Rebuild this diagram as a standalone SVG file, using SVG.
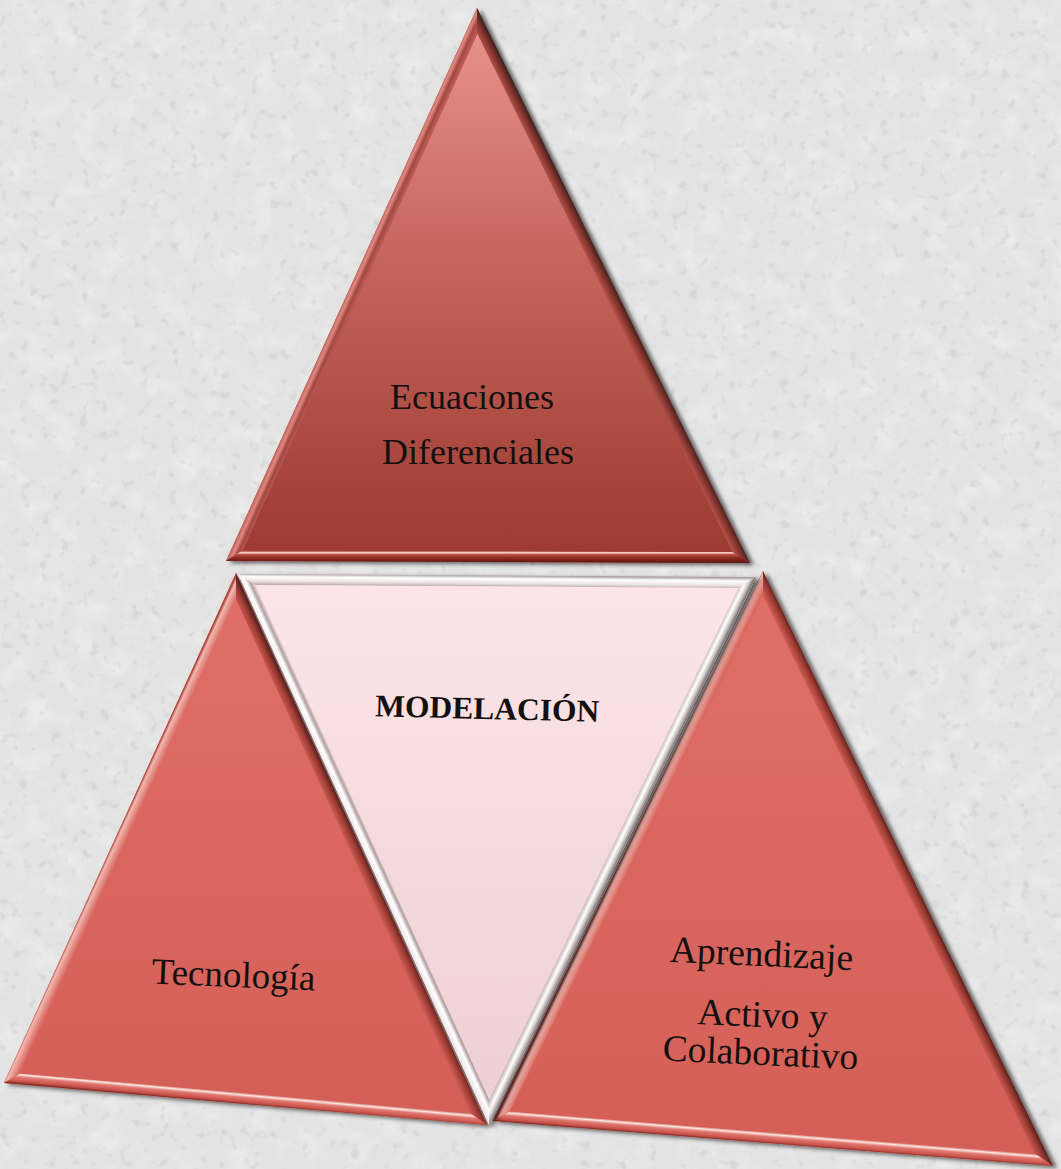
<svg xmlns="http://www.w3.org/2000/svg" width="1061" height="1169" viewBox="0 0 1061 1169">
  <defs>
    <style>
      .lbl { font-family: "Liberation Serif", "Times New Roman", serif; fill: #151010; text-anchor: middle; }
      .big { font-size: 36px; }
      .bold { font-size: 31.5px; font-weight: bold; }
    </style>

    <!-- paper grain for the backdrop: sparse dark specks plus faint light mottling -->
    <filter id="grainDark" x="0" y="0" width="1" height="1">
      <feTurbulence type="fractalNoise" baseFrequency="0.1" numOctaves="2" seed="7"/>
      <feColorMatrix type="matrix" values="0 0 0 0 0.5  0 0 0 0 0.5  0 0 0 0 0.5  5 0 0 0 -3.0"/>
    </filter>
    <filter id="grainLight" x="0" y="0" width="1" height="1">
      <feTurbulence type="fractalNoise" baseFrequency="0.04" numOctaves="3" seed="21"/>
      <feColorMatrix type="matrix" values="0 0 0 0 1  0 0 0 0 1  0 0 0 0 1  -2.2 0 0 0 1.2"/>
    </filter>

    <!-- soft cast shadow under each prism -->
    <filter id="cast" x="-10%" y="-10%" width="125%" height="125%">
      <feDropShadow dx="4" dy="2" stdDeviation="2" flood-color="#000" flood-opacity="0.6"/>
    </filter>

    <!-- face fills -->
    <linearGradient id="faceTop" gradientUnits="userSpaceOnUse" x1="0" y1="30" x2="0" y2="552">
      <stop offset="0" stop-color="#e8928a"/>
      <stop offset="0.45" stop-color="#c4645b"/>
      <stop offset="1" stop-color="#9d3a32"/>
    </linearGradient>
    <linearGradient id="faceMid" gradientUnits="userSpaceOnUse" x1="0" y1="585" x2="0" y2="1100">
      <stop offset="0" stop-color="#fde5e7"/>
      <stop offset="1" stop-color="#edd0d4"/>
    </linearGradient>
    <linearGradient id="faceSide" x1="0" y1="0" x2="0" y2="1">
      <stop offset="0" stop-color="#df6f67"/>
      <stop offset="1" stop-color="#d45f57"/>
    </linearGradient>

    <!-- bevel profiles, outer edge -> inner edge -->
    <linearGradient id="bvTopL"><stop offset="0" stop-color="#c86860"/><stop offset="0.25" stop-color="#de8a80"/><stop offset="0.6" stop-color="#a44640"/><stop offset="1" stop-color="#bc5e56"/></linearGradient>
    <linearGradient id="bvTopR"><stop offset="0" stop-color="#3a2624"/><stop offset="0.35" stop-color="#7a2e27"/><stop offset="1" stop-color="#b0524a"/></linearGradient>
    <linearGradient id="bvTopB"><stop offset="0" stop-color="#661812"/><stop offset="0.4" stop-color="#8e2c24"/><stop offset="0.7" stop-color="#c0564c"/><stop offset="0.84" stop-color="#ffe6de"/><stop offset="1" stop-color="#a8423a"/></linearGradient>

    <linearGradient id="bvRedL"><stop offset="0" stop-color="#b0463e"/><stop offset="0.22" stop-color="#f2b8b0"/><stop offset="0.55" stop-color="#e6948c"/><stop offset="1" stop-color="#d8665e"/></linearGradient>
    <linearGradient id="bvRedR"><stop offset="0" stop-color="#5a2420"/><stop offset="0.4" stop-color="#9c3a32"/><stop offset="1" stop-color="#cc5c54"/></linearGradient>
    <linearGradient id="bvRedB"><stop offset="0" stop-color="#8a2e28"/><stop offset="0.18" stop-color="#c8524a"/><stop offset="0.58" stop-color="#e07a72"/><stop offset="0.8" stop-color="#fde8e2"/><stop offset="1" stop-color="#d0645c"/></linearGradient>

    <linearGradient id="bvPinkT"><stop offset="0" stop-color="#a8a0a0"/><stop offset="0.3" stop-color="#ffffff"/><stop offset="0.7" stop-color="#ece4e4"/><stop offset="1" stop-color="#c0b0b2"/></linearGradient>
    <linearGradient id="bvPinkL"><stop offset="0" stop-color="#f2e6e8"/><stop offset="0.45" stop-color="#ffffff"/><stop offset="0.8" stop-color="#b0a0a2"/><stop offset="1" stop-color="#dcc8cc"/></linearGradient>
    <linearGradient id="bvPinkR"><stop offset="0" stop-color="#7c7272"/><stop offset="0.3" stop-color="#cec6c6"/><stop offset="0.6" stop-color="#ffffff"/><stop offset="1" stop-color="#c8b8ba"/></linearGradient>

    <!-- per-edge orientations of the bevel profiles (along each inward normal) -->
    <linearGradient id="gTopL" href="#bvTopL" gradientUnits="userSpaceOnUse" x1="351.5" y1="284.5" x2="361.5" y2="289"/>
    <linearGradient id="gTopR" href="#bvTopR" gradientUnits="userSpaceOnUse" x1="613.5" y1="285.5" x2="603.6" y2="290.4"/>
    <linearGradient id="gTopB" href="#bvTopB" gradientUnits="userSpaceOnUse" x1="488" y1="562" x2="488" y2="551"/>

    <linearGradient id="gMidT" href="#bvPinkT" gradientUnits="userSpaceOnUse" x1="497" y1="575.5" x2="496.9" y2="586.5"/>
    <linearGradient id="gMidL" href="#bvPinkL" gradientUnits="userSpaceOnUse" x1="363.5" y1="849.5" x2="373.5" y2="844.9"/>
    <linearGradient id="gMidR" href="#bvPinkR" gradientUnits="userSpaceOnUse" x1="622.5" y1="851" x2="612.6" y2="846.2"/>

    <linearGradient id="gLftL" href="#bvRedL" gradientUnits="userSpaceOnUse" x1="120" y1="828" x2="130" y2="832.6"/>
    <linearGradient id="gLftR" href="#bvRedR" gradientUnits="userSpaceOnUse" x1="361.5" y1="849" x2="351.5" y2="853.6"/>
    <linearGradient id="gLftB" href="#bvRedB" gradientUnits="userSpaceOnUse" x1="245.5" y1="1104" x2="246.5" y2="1093"/>

    <linearGradient id="gRgtL" href="#bvRedL" gradientUnits="userSpaceOnUse" x1="628" y1="846" x2="637.9" y2="850.8"/>
    <linearGradient id="gRgtR" href="#bvRedR" gradientUnits="userSpaceOnUse" x1="908" y1="868.5" x2="898.1" y2="873.3"/>
    <linearGradient id="gRgtB" href="#bvRedB" gradientUnits="userSpaceOnUse" x1="773" y1="1143.5" x2="773.9" y2="1132.5"/>
  </defs>

  <!-- backdrop -->
  <rect width="1061" height="1169" fill="#e3e3e3"/>
  <rect width="1061" height="1169" filter="url(#grainLight)" opacity="0.35"/>
  <rect width="1061" height="1169" filter="url(#grainDark)" opacity="0.3"/>

  <!-- top prism -->
  <g id="node-ecuaciones">
    <polygon points="477,8 226,561 750,563" fill="#9d3a32" filter="url(#cast)"/>
    <polygon points="477,8 226,561 243,550.1 477.4,33.7" fill="url(#gTopL)"/>
    <polygon points="477,8 750,563 732.3,551.9 477.4,33.7" fill="url(#gTopR)"/>
    <polygon points="226,561 750,563 732.3,551.9 243,550.1" fill="url(#gTopB)"/>
    <polygon points="477.4,33.7 243,550.1 732.3,551.9" fill="url(#faceTop)"/>
    <text class="lbl big" x="472" y="409">Ecuaciones</text>
    <text class="lbl big" x="478" y="464">Diferenciales</text>
  </g>

  <!-- lower left prism -->
  <g id="node-tecnologia">
    <polygon points="236,573 4,1083 487,1125" fill="#d35f57" filter="url(#cast)"/>
    <polygon points="236,573 4,1083 20.4,1073.4 236,599.6" fill="url(#gLftL)"/>
    <polygon points="236,573 487,1125 469.2,1112.4 236,599.6" fill="url(#gLftR)"/>
    <polygon points="4,1083 487,1125 469.2,1112.4 20.4,1073.4" fill="url(#gLftB)"/>
    <polygon points="236,599.6 20.4,1073.4 469.2,1112.4" fill="url(#faceSide)"/>
    <text class="lbl" font-size="37" transform="translate(233,987) rotate(2.4)">Tecnología</text>
  </g>

  <!-- lower right prism -->
  <g id="node-aprendizaje">
    <polygon points="763,571 493,1121 1053,1166" fill="#d35f57" filter="url(#cast)"/>
    <polygon points="763,571 493,1121 510,1111.3 763,596" fill="url(#gRgtL)"/>
    <polygon points="763,571 1053,1166 1034.7,1153.5 763,596" fill="url(#gRgtR)"/>
    <polygon points="493,1121 1053,1166 1034.7,1153.5 510,1111.3" fill="url(#gRgtB)"/>
    <polygon points="763,596 510,1111.3 1034.7,1153.5" fill="url(#faceSide)"/>
    <text class="lbl" font-size="37.5" transform="translate(761,966) rotate(2.6)">Aprendizaje</text>
    <text class="lbl" font-size="37.5" transform="translate(762,1027) rotate(2.6)">Activo y</text>
    <text class="lbl" font-size="37.5" transform="translate(760,1065) rotate(2.6)">Colaborativo</text>
  </g>

  <!-- central inverted prism -->
  <g id="node-modelacion">
    <polygon points="238,574 756,577 489,1125" fill="#e8ccd0" filter="url(#cast)"/>
    <polygon points="238,574 756,577 738.5,587.9 255.1,585.1" fill="url(#gMidT)"/>
    <polygon points="238,574 489,1125 489.3,1099.2 255.1,585.1" fill="url(#gMidL)"/>
    <polygon points="756,577 489,1125 489.3,1099.2 738.5,587.9" fill="url(#gMidR)"/>
    <polygon points="255.1,585.1 738.5,587.9 489.3,1099.2" fill="url(#faceMid)"/>
    <text class="lbl bold" transform="translate(487,719) rotate(1.4)">MODELACIÓN</text>
  </g>
</svg>
